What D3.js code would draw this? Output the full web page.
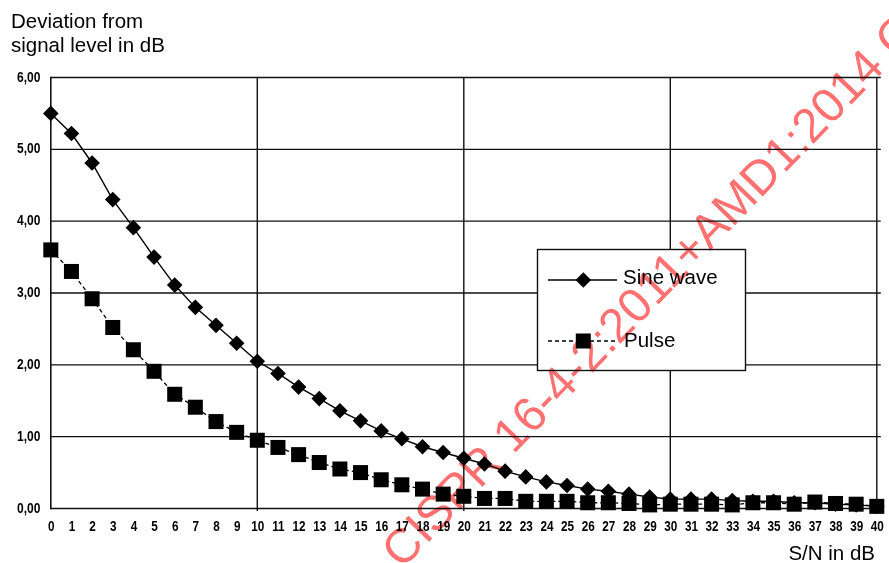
<!DOCTYPE html>
<html>
<head>
<meta charset="utf-8">
<script src="https://cdn.jsdelivr.net/npm/d3@7"></script>
<style>
  html, body { margin: 0; padding: 0; background: #fff; }
  svg { display: block; }
</style>
</head>
<body>
<svg id="chart" width="889" height="563"></svg>
<script>
// ---- data ----
const snValues = d3.range(0, 41);
const sineWave = [5.50, 5.22, 4.81, 4.30, 3.91, 3.50, 3.11, 2.80, 2.55, 2.30,
                  2.05, 1.88, 1.69, 1.53, 1.36, 1.22, 1.08, 0.97, 0.86, 0.78,
                  0.70, 0.62, 0.52, 0.44, 0.37, 0.32, 0.27, 0.24, 0.20, 0.16,
                  0.13, 0.13, 0.13, 0.11, 0.10, 0.10, 0.08, 0.08, 0.06, 0.05, 0.03];
const pulse    = [3.60, 3.30, 2.92, 2.52, 2.21, 1.91, 1.59, 1.41, 1.21, 1.06,
                  0.95, 0.85, 0.75, 0.64, 0.55, 0.50, 0.40, 0.33, 0.27, 0.20,
                  0.17, 0.14, 0.14, 0.10, 0.10, 0.10, 0.08, 0.08, 0.07, 0.05,
                  0.06, 0.06, 0.06, 0.05, 0.08, 0.08, 0.06, 0.09, 0.07, 0.06, 0.03];
const yTicks = [0, 1, 2, 3, 4, 5, 6];
const yTickLabels = ["0,00", "1,00", "2,00", "3,00", "4,00", "5,00", "6,00"];
const xGridTicks = [10, 20, 30, 40];
const seriesNames = ["Sine wave", "Pulse"];
const titleLines = ["Deviation from", "signal level in dB"];
const xAxisTitle = "S/N in dB";
const watermarkText = "CISPR 16-4-2:2011+AMD1:2014 CSV";

// ---- layout ----
const svg = d3.select("#chart");
const x = d3.scaleLinear().domain([0, 40]).range([50.8, 876.8]);
const y = d3.scaleLinear().domain([0, 6]).range([508.5, 77.5]);
const labelFont = "'Liberation Sans', Arial, sans-serif";
const textFont = "'Liberation Sans', Arial, Helvetica, sans-serif";
const gridColor = "#111";

// grid
const g = svg.append("g");
g.selectAll("line.h").data(yTicks.filter(d => d > 0)).join("line")
  .attr("x1", x(0)).attr("x2", x(40) + 4)
  .attr("y1", d => y(d)).attr("y2", d => y(d))
  .attr("stroke", gridColor).attr("stroke-width", 1.4);
g.selectAll("line.v").data(xGridTicks).join("line")
  .attr("x1", d => x(d)).attr("x2", d => x(d))
  .attr("y1", y(6) - 0.5).attr("y2", y(0) + 2.5)
  .attr("stroke", gridColor).attr("stroke-width", 1.4);

// axes lines
g.append("line").attr("x1", x(0)).attr("x2", x(40)).attr("y1", y(0)).attr("y2", y(0))
  .attr("stroke", gridColor).attr("stroke-width", 1.6);
g.append("line").attr("x1", x(0)).attr("x2", x(0)).attr("y1", y(6) - 0.7).attr("y2", y(0) + 0.8)
  .attr("stroke", gridColor).attr("stroke-width", 1.6);

// y tick labels
const yAxis = d3.axisLeft(y).tickValues(yTicks).tickSize(0).tickPadding(12)
  .tickFormat((d, i) => yTickLabels[i]);
const yg = svg.append("g").attr("transform", `translate(${x(0)},0)`).call(yAxis);
yg.select(".domain").remove();
yg.selectAll("text").attr("font-family", labelFont).attr("font-weight", "bold")
  .attr("font-size", 14).attr("fill", "#000").attr("dy", "0.25em")
  .attr("transform", "scale(0.86,1)");

// x tick labels
const xAxis = d3.axisBottom(x).tickValues(snValues).tickSize(0).tickPadding(13)
  .tickFormat(d3.format("d"));
const xg = svg.append("g").attr("transform", `translate(0,${y(0)})`).call(xAxis);
xg.select(".domain").remove();
xg.selectAll("text").attr("font-family", labelFont).attr("font-weight", "bold")
  .attr("font-size", 14).attr("fill", "#000")
  .attr("transform", "scale(0.84,1)");

// series lines
const line = (vals) => d3.line().x((d, i) => x(snValues[i])).y(d => y(d))(vals);
svg.append("path").attr("d", line(sineWave)).attr("fill", "none")
  .attr("stroke", "#000").attr("stroke-width", 1.4);
svg.append("path").attr("d", line(pulse)).attr("fill", "none")
  .attr("stroke", "#000").attr("stroke-width", 1.3).attr("stroke-dasharray", "4,3");

// markers
const diamond = (cx, cy, r) => `M${cx},${cy - r}L${cx + r},${cy}L${cx},${cy + r}L${cx - r},${cy}Z`;
svg.append("g").selectAll("path").data(sineWave).join("path")
  .attr("d", (d, i) => diamond(x(snValues[i]), y(d), 7.8))
  .attr("fill", "#000");
svg.append("g").selectAll("rect").data(pulse).join("rect")
  .attr("x", (d, i) => x(snValues[i]) - 7.5).attr("y", d => y(d) - 7.5)
  .attr("width", 15).attr("height", 15).attr("fill", "#000");

// legend
const lg = svg.append("g");
lg.append("rect").attr("x", 537.5).attr("y", 249.5).attr("width", 208).attr("height", 121)
  .attr("fill", "#fff").attr("stroke", gridColor).attr("stroke-width", 1.4);
lg.append("line").attr("x1", 548).attr("x2", 617).attr("y1", 280).attr("y2", 280)
  .attr("stroke", "#000").attr("stroke-width", 1.4);
lg.append("path").attr("d", diamond(583.3, 280, 7.8)).attr("fill", "#000");
lg.append("text").attr("x", 623).attr("y", 283.5).text(seriesNames[0])
  .attr("font-family", textFont).attr("font-size", 20.5).attr("fill", "#000");
lg.append("line").attr("x1", 548).attr("x2", 617).attr("y1", 341).attr("y2", 341)
  .attr("stroke", "#000").attr("stroke-width", 1.3).attr("stroke-dasharray", "4,3");
lg.append("rect").attr("x", 575.8).attr("y", 333.5).attr("width", 15).attr("height", 15).attr("fill", "#000");
lg.append("text").attr("x", 624).attr("y", 347).text(seriesNames[1])
  .attr("font-family", textFont).attr("font-size", 20.5).attr("fill", "#000");

// titles
svg.append("text").attr("x", 11).attr("y", 28.3)
  .attr("font-family", textFont).attr("font-size", 20.5).attr("fill", "#000")
  .text(titleLines[0]);
svg.append("text").attr("x", 11).attr("y", 51.5)
  .attr("font-family", textFont).attr("font-size", 20.5).attr("fill", "#000")
  .text(titleLines[1]);
svg.append("text").attr("x", 875).attr("y", 560).attr("text-anchor", "end")
  .attr("font-family", textFont).attr("font-size", 20.5).attr("fill", "#000")
  .text(xAxisTitle);

// watermark
svg.append("text")
  .attr("transform", "translate(402,570) rotate(-46)")
  .attr("font-family", textFont).attr("font-size", 48)
  .attr("fill", "#ff7070").style("mix-blend-mode", "multiply")
  .text(watermarkText);
</script>
</body>
</html>
